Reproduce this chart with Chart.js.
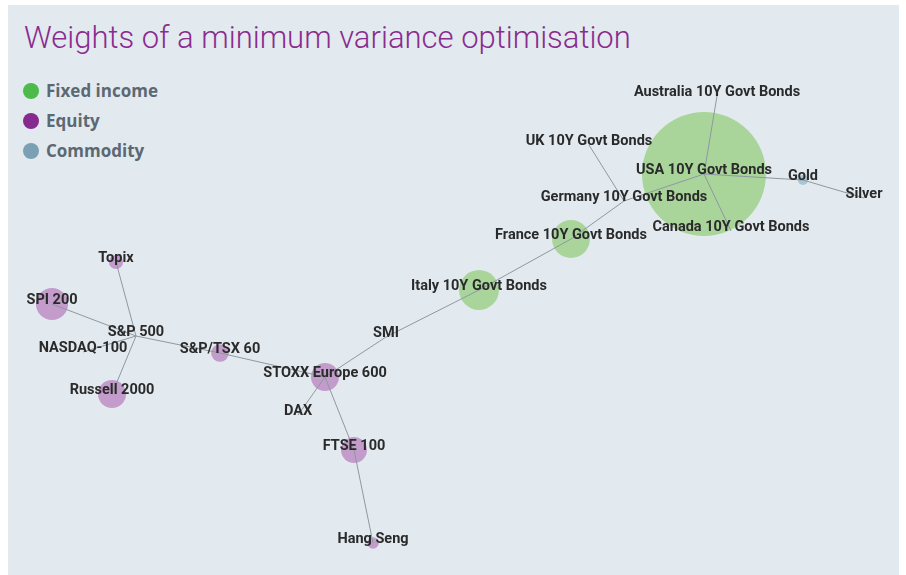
<!DOCTYPE html>
<html>
<head>
<meta charset="utf-8">
<script src="https://cdn.jsdelivr.net/npm/chart.js@4/dist/chart.umd.min.js"></script>
<style>
  html, body { margin: 0; padding: 0; background: #ffffff; }
  #wrap { position: relative; width: 906px; height: 575px; }
  #panel { position: absolute; left: 8px; top: 5px; width: 891px; height: 570px; background: #e2eaf0; }
  #title { position: absolute; left: 24px; top: 19px; font-family: Roboto, sans-serif; font-weight: 300; font-size: 31px; color: #8a2c8e; white-space: nowrap; }
  #legend { position: absolute; left: 23px; top: 79px; font-family: "Open Sans", sans-serif; font-weight: 700; font-size: 17px; color: #5c6872; }
  .li { height: 30px; line-height: 24px; display: flex; align-items: flex-start; }
  .dot { width: 16px; height: 16px; border-radius: 50%; margin-top: 4px; margin-right: 7px; }
  canvas { position: absolute; left: 0; top: 0; }
</style>
</head>
<body>
<div id="wrap">
  <div id="panel"></div>
  <div id="title">Weights of a minimum variance optimisation</div>
  <div id="legend"></div>
  <canvas id="c" width="906" height="575"></canvas>
</div>
<script>
// ---- Data ----
const nodeNames = ["USA 10Y Govt Bonds","Australia 10Y Govt Bonds","UK 10Y Govt Bonds","Germany 10Y Govt Bonds","Canada 10Y Govt Bonds","France 10Y Govt Bonds","Italy 10Y Govt Bonds","Gold","Silver","SMI","STOXX Europe 600","DAX","FTSE 100","Hang Seng","S&P/TSX 60","S&P 500","Topix","SPI 200","NASDAQ-100","Russell 2000"];
const nodeGroups = ["Fixed income","Fixed income","Fixed income","Fixed income","Fixed income","Fixed income","Fixed income","Commodity","Commodity","Equity","Equity","Equity","Equity","Equity","Equity","Equity","Equity","Equity","Equity","Equity"];
// layout coordinates of the network (x to the right, y downwards)
const nodeX = [704,717,589,624,731,571,479,803,864,386,325,298,354,373,220,136,116,52,83,112];
const nodeY = [174,96,145,201,231,239,290,180,198,337,377,415,450,543,353,336,262,304,352,394];
// portfolio weights (%)
const nodeWeights = [68.5,0,0,0,0,6.4,7.1,0.45,0,0,3.5,0,3.0,0.6,1.4,0,0.9,4.6,0,3.5];
const edges = [
  ["USA 10Y Govt Bonds","Australia 10Y Govt Bonds"],
  ["USA 10Y Govt Bonds","Canada 10Y Govt Bonds"],
  ["USA 10Y Govt Bonds","Gold"],
  ["Gold","Silver"],
  ["USA 10Y Govt Bonds","Germany 10Y Govt Bonds"],
  ["Germany 10Y Govt Bonds","UK 10Y Govt Bonds"],
  ["Germany 10Y Govt Bonds","France 10Y Govt Bonds"],
  ["France 10Y Govt Bonds","Italy 10Y Govt Bonds"],
  ["Italy 10Y Govt Bonds","SMI"],
  ["SMI","STOXX Europe 600"],
  ["STOXX Europe 600","DAX"],
  ["STOXX Europe 600","FTSE 100"],
  ["FTSE 100","Hang Seng"],
  ["STOXX Europe 600","S&P/TSX 60"],
  ["S&P/TSX 60","S&P 500"],
  ["S&P 500","Topix"],
  ["S&P 500","SPI 200"],
  ["S&P 500","NASDAQ-100"],
  ["S&P 500","Russell 2000"]
];
const groups = ["Fixed income","Equity","Commodity"];

// ---- Styles ----
const legendColors = {"Fixed income":"#4cbb4a","Equity":"#862a8f","Commodity":"#7ba0b3"};
const bubbleColors = {"Fixed income":"#a9d59b","Equity":"#c49ccc","Commodity":"#a9c6d6"};
const radiusScale = 7.49; // r = k*sqrt(weight)

// legend
const lg = document.getElementById('legend');
groups.forEach(g => {
  const d = document.createElement('div'); d.className = 'li';
  const s = document.createElement('span'); s.className = 'dot'; s.style.background = legendColors[g];
  const t = document.createElement('span'); t.textContent = g;
  d.appendChild(s); d.appendChild(t); lg.appendChild(d);
});

const idx = n => nodeNames.indexOf(n);

const datasets = [];
// edges
edges.forEach(e => {
  const a = idx(e[0]), b = idx(e[1]);
  datasets.push({
    type: 'line',
    data: [{x: nodeX[a], y: nodeY[a]}, {x: nodeX[b], y: nodeY[b]}],
    borderColor: '#8d98a1', borderWidth: 1, pointRadius: 0, fill: false, order: 1
  });
});
// bubbles per group
groups.forEach(g => {
  const pts = [];
  nodeNames.forEach((n, i) => {
    if (nodeGroups[i] === g && nodeWeights[i] > 0) {
      pts.push({x: nodeX[i], y: nodeY[i], r: radiusScale * Math.sqrt(nodeWeights[i]), name: n});
    }
  });
  datasets.push({
    type: 'bubble', label: g, data: pts,
    backgroundColor: bubbleColors[g], borderWidth: 0, hoverBorderWidth: 0, order: 2
  });
});

const labelPlugin = {
  id: 'nodeLabels',
  afterDatasetsDraw(chart) {
    const ctx = chart.ctx, xs = chart.scales.x, ys = chart.scales.y;
    ctx.save();
    ctx.font = 'bold 14.5px Roboto, sans-serif';
    ctx.fillStyle = '#2a2a2a';
    ctx.textAlign = 'center';
    ctx.textBaseline = 'middle';
    nodeNames.forEach((n, i) => {
      ctx.fillText(n, xs.getPixelForValue(nodeX[i]), ys.getPixelForValue(nodeY[i]) - 4);
    });
    ctx.restore();
  }
};

new Chart(document.getElementById('c'), {
  type: 'bubble',
  data: { datasets },
  options: {
    responsive: false,
    animation: false,
    events: [],
    layout: { padding: 0, autoPadding: false },
    plugins: { legend: { display: false }, tooltip: { enabled: false }, title: { display: false } },
    scales: {
      x: { type: 'linear', min: 0, max: 906, display: false },
      y: { type: 'linear', min: 0, max: 575, reverse: true, display: false }
    },
    clip: false
  },
  plugins: [labelPlugin]
});
</script>
</body>
</html>
